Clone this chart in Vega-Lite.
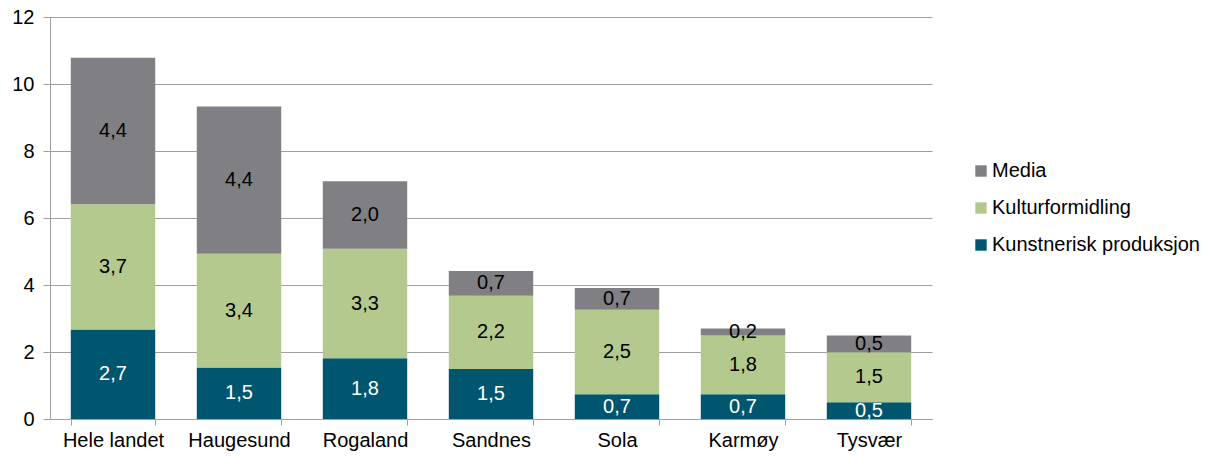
{
  "$schema": "https://vega.github.io/schema/vega-lite/v6.json",
  "width": 882,
  "height": 402,
  "autosize": "none",
  "padding": {"left": 50, "top": 17, "right": 286, "bottom": 40},
  "background": "white",
  "config": {
    "font": "Liberation Sans",
    "view": {"stroke": null},
    "locale": {"number": {"decimal": ",", "thousands": " ", "grouping": [3], "currency": ["", " kr"]}}
  },
  "data": {"values": [
    {"kommune": "Hele landet", "serie": "Kunstnerisk produksjon", "verdi": 2.67},
    {"kommune": "Hele landet", "serie": "Kulturformidling", "verdi": 3.74},
    {"kommune": "Hele landet", "serie": "Media", "verdi": 4.37},
    {"kommune": "Haugesund", "serie": "Kunstnerisk produksjon", "verdi": 1.54},
    {"kommune": "Haugesund", "serie": "Kulturformidling", "verdi": 3.39},
    {"kommune": "Haugesund", "serie": "Media", "verdi": 4.4},
    {"kommune": "Rogaland", "serie": "Kunstnerisk produksjon", "verdi": 1.81},
    {"kommune": "Rogaland", "serie": "Kulturformidling", "verdi": 3.27},
    {"kommune": "Rogaland", "serie": "Media", "verdi": 2.02},
    {"kommune": "Sandnes", "serie": "Kunstnerisk produksjon", "verdi": 1.49},
    {"kommune": "Sandnes", "serie": "Kulturformidling", "verdi": 2.19},
    {"kommune": "Sandnes", "serie": "Media", "verdi": 0.74},
    {"kommune": "Sola", "serie": "Kunstnerisk produksjon", "verdi": 0.74},
    {"kommune": "Sola", "serie": "Kulturformidling", "verdi": 2.52},
    {"kommune": "Sola", "serie": "Media", "verdi": 0.65},
    {"kommune": "Karmøy", "serie": "Kunstnerisk produksjon", "verdi": 0.74},
    {"kommune": "Karmøy", "serie": "Kulturformidling", "verdi": 1.75},
    {"kommune": "Karmøy", "serie": "Media", "verdi": 0.21},
    {"kommune": "Tysvær", "serie": "Kunstnerisk produksjon", "verdi": 0.5},
    {"kommune": "Tysvær", "serie": "Kulturformidling", "verdi": 1.49},
    {"kommune": "Tysvær", "serie": "Media", "verdi": 0.5}
  ]},
  "transform": [
    {"calculate": "indexof(['Kunstnerisk produksjon','Kulturformidling','Media'], datum.serie)", "as": "ord"},
    {"stack": "verdi", "groupby": ["kommune"], "sort": [{"field": "ord", "order": "ascending"}], "as": ["v0", "v1"]},
    {"calculate": "(datum.v0 + datum.v1) / 2", "as": "mid"}
  ],
  "encoding": {
    "x": {
      "field": "kommune", "type": "nominal", "sort": null,
      "scale": {"paddingInner": 0.33, "paddingOuter": 0.165},
      "axis": {
        "title": null, "labelAngle": 0, "labelFontSize": 20, "labelColor": "#000000",
        "labelPadding": 5, "tickBand": "extent", "tickSize": 6, "tickColor": "#A0A0A0",
        "domainColor": "#A0A0A0", "grid": false, "labelLimit": 200
      }
    }
  },
  "layer": [
    {
      "mark": {"type": "bar"},
      "encoding": {
        "y": {
          "field": "v0", "type": "quantitative",
          "scale": {"domain": [0, 12], "nice": false},
          "axis": {
            "title": null, "values": [0, 2, 4, 6, 8, 10, 12], "labelFontSize": 20,
            "labelColor": "#000000", "tickSize": 7, "tickColor": "#A0A0A0", "labelPadding": 9,
            "domainColor": "#A0A0A0", "gridColor": "#A0A0A0", "grid": true, "format": "d"
          }
        },
        "y2": {"field": "v1"},
        "color": {
          "field": "serie", "type": "nominal",
          "scale": {"domain": ["Media", "Kulturformidling", "Kunstnerisk produksjon"], "range": ["#807F83", "#B3C98D", "#00566E"]},
          "legend": {
            "title": null, "orient": "none", "legendX": 921, "legendY": 144,
            "symbolType": "square", "symbolSize": 130, "symbolStrokeWidth": 0,
            "labelFontSize": 20, "labelColor": "#000000", "labelOffset": 1, "rowPadding": 17,
            "labelLimit": 300
          }
        }
      }
    },
    {
      "mark": {"type": "text", "fontSize": 20, "baseline": "middle", "align": "center"},
      "encoding": {
        "y": {"field": "mid", "type": "quantitative"},
        "text": {"field": "verdi", "type": "quantitative", "format": ".1f"},
        "color": {
          "condition": {"test": "datum.serie === 'Kunstnerisk produksjon'", "value": "#FFFFFF"},
          "value": "#000000"
        }
      }
    }
  ]
}
